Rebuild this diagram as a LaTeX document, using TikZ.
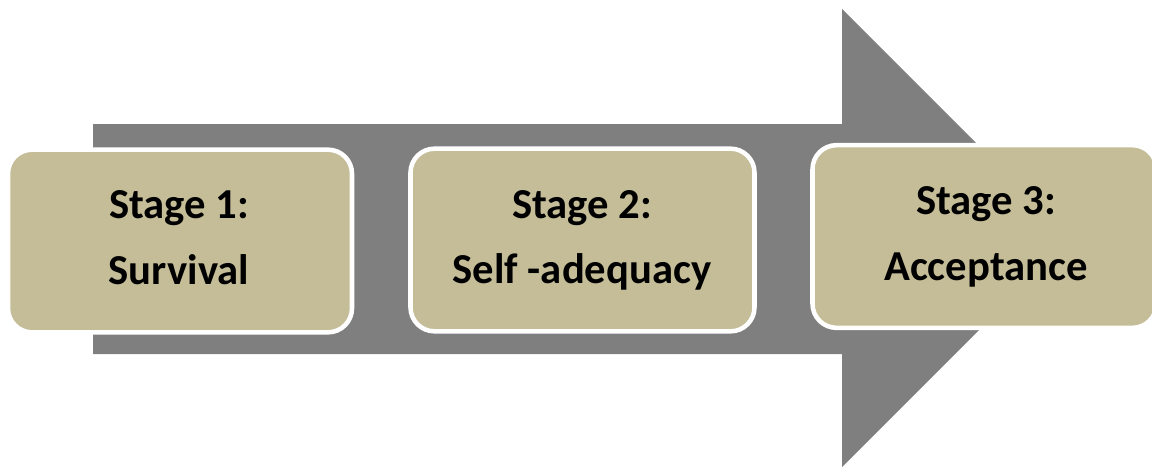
\documentclass[tikz,border=0pt]{standalone}
\usepackage{fontspec}
\setmainfont{Carlito}
\definecolor{arrowgray}{HTML}{7F7F7F}
\definecolor{tanfill}{HTML}{C4BD97}
\tikzset{
  stagebox/.style={draw=white, line width=3.4pt, fill=tanfill, rounded corners=18pt,
    minimum width=258pt, minimum height=137pt, inner sep=0pt, outer sep=0pt},
  stagetext/.style={anchor=base, inner sep=0pt, text=black,
    font=\fontsize{32pt}{38pt}\selectfont\bfseries},
}
\begin{document}
\begin{tikzpicture}[x=0.75pt,y=-0.75pt]
\useasboundingbox (0,0) rectangle (1152,467);
\begin{scope}
\clip (0,0) rectangle (1152,467);
\fill[arrowgray] (93,124) -- (842,124) -- (842,9) -- (1071,238) -- (842,467)
  -- (842,354) -- (93,354) -- cycle;
\node[stagebox] (b1) at (180,241) {};
\node[stagebox] (b2) at (582.5,240) {};
\node[stagebox] (b3) at (984.5,236.5) {};
\node[stagetext] (t1a) at (179,218) {Stage 1:};
\node[stagetext] (t1b) at (179,284) {Survival};
\node[stagetext] (t2a) at (582,218) {Stage 2:};
\node[stagetext] (t2b) at (582,283) {Self -adequacy};
\node[stagetext] (t3a) at (986,214) {Stage 3:};
\node[stagetext] (t3b) at (986,280) {Acceptance};
\end{scope}
\end{tikzpicture}
\end{document}
